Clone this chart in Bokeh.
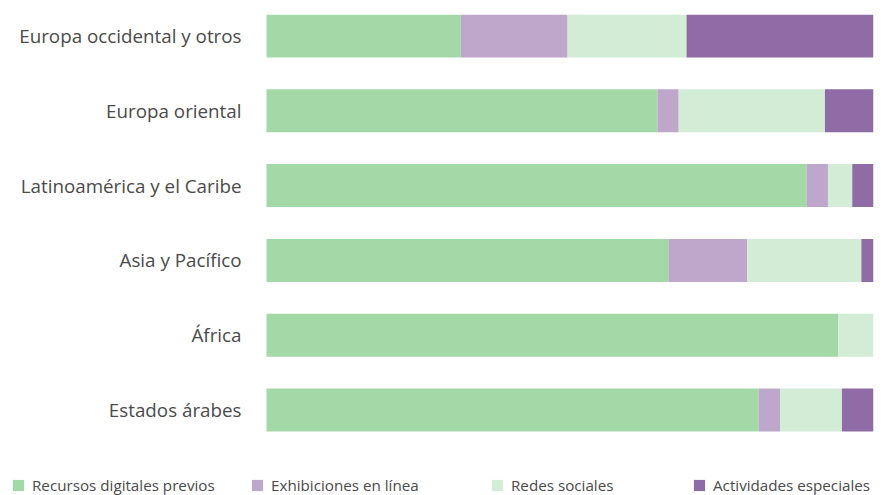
from bokeh.plotting import figure
from bokeh.models import ColumnDataSource, Range1d, Legend, LegendItem, FixedTicker
from bokeh.embed import file_html
from bokeh.resources import INLINE

regions = ["Europa occidental y otros", "Europa oriental", "Latinoamérica y el Caribe",
           "Asia y Pacífico", "África", "Estados árabes"]
series = ["Recursos digitales previos", "Exhibiciones en línea", "Redes sociales", "Actividades especiales"]
recursos = [32.0, 64.4, 89.0, 66.2, 94.2, 81.1]
exhibiciones = [17.6, 3.5, 3.5, 13.0, 0.0, 3.5]
redes = [19.6, 24.1, 4.0, 18.8, 5.8, 10.2]
actividades = [30.8, 8.0, 3.5, 2.0, 0.0, 5.2]
colors = ["#a2d9a6", "#bea7ca", "#d2ecd6", "#906ca7"]

keys = ["recursos", "exhibiciones", "redes", "actividades"]
ypos = list(range(len(regions)))[::-1]
source = ColumnDataSource(dict(ypos=ypos, region=regions, recursos=recursos,
                               exhibiciones=exhibiciones, redes=redes, actividades=actividades))

TEXT = "#4a4a4a"
W, H = 882, 495
frame_right = 9
bar_left_px = 266                 # pixel where the 0% line sits
bar_span_px = W - frame_right - bar_left_px
row_px = 74.8                     # pixel distance between rows
bar_h = 0.575
top_pad = bar_h / 2
bottom_pad = bar_h / 2 + 64 / row_px   # room for the legend strip

p = figure(width=W, height=H, output_backend="svg", toolbar_location=None,
           x_range=Range1d(-100 * bar_left_px / bar_span_px, 100),
           y_range=Range1d(-bottom_pad, len(regions) - 1 + top_pad),
           min_border_left=0, min_border_right=frame_right, min_border_top=14, min_border_bottom=0)
renderers = p.hbar_stack(keys, y="ypos", height=bar_h, color=colors, source=source, line_width=0)

p.xaxis.visible = False
p.xgrid.visible = False
p.ygrid.visible = False
p.outline_line_color = None

ax = p.yaxis[0]
ax.fixed_location = 0
ax.ticker = FixedTicker(ticks=ypos)
ax.major_label_overrides = {y: name for y, name in zip(ypos, regions)}
ax.axis_line_color = None
ax.major_tick_line_color = None
ax.minor_tick_line_color = None
ax.major_tick_out = 0
ax.major_tick_in = 0
ax.major_label_standoff = 25
ax.major_label_text_font = "Open Sans"
ax.major_label_text_font_size = "18.8px"
ax.major_label_text_color = TEXT

xs = [11, 250, 490, 692]
for r, name, x in zip(renderers, series, xs):
    lg = Legend(items=[LegendItem(label=name, renderers=[r])], location=(x, 0),
                orientation="horizontal", padding=0, margin=0, spacing=0,
                glyph_width=14, glyph_height=14, label_standoff=7,
                label_text_font="Open Sans", label_text_font_size="15.2px",
                label_text_color=TEXT, border_line_color=None,
                background_fill_alpha=0, label_height=20)
    p.add_layout(lg, "center")

open("out.html", "w").write(file_html(p, INLINE))
